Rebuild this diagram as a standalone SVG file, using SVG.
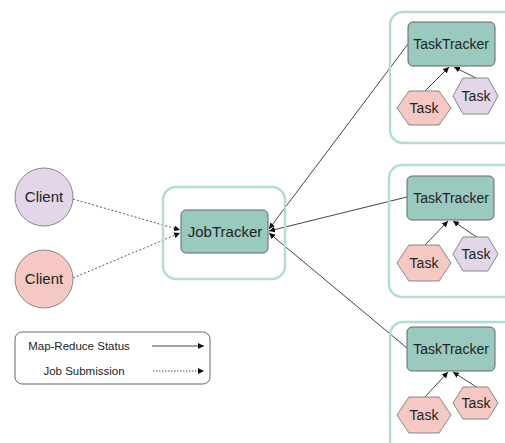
<svg xmlns="http://www.w3.org/2000/svg" width="505" height="443" viewBox="0 0 505 443">
<style>
.outer{fill:none;stroke:#b3ddd3;stroke-width:2.5}
.tracker{fill:#9ac9bf;stroke:#666;stroke-width:1}
.pink{fill:#f5c8c3;stroke:#888;stroke-width:1}
.purple{fill:#e2d6e8;stroke:#888;stroke-width:1}
text{font-family:"Liberation Sans",Arial,sans-serif;fill:#222;text-anchor:middle}
.big{font-size:15px}
.tt{font-size:14px}
.sm{font-size:11.5px}
.solid{stroke:#444;stroke-width:1;fill:none}
.dash{stroke:#555;stroke-width:1;fill:none;stroke-dasharray:2 2}
</style>
<defs>
<marker id="ah" viewBox="0 0 8 8" refX="8" refY="4" markerWidth="6" markerHeight="6" orient="auto" markerUnits="userSpaceOnUse">
<path d="M0,0 L8,4 L0,8 Z" fill="#111"/>
</marker>
</defs>
<rect width="505" height="443" fill="#fff"/>

<g id="connectors">
<line class="dash" x1="73" y1="199" x2="180" y2="230" marker-end="url(#ah)"/>
<line class="dash" x1="73" y1="278" x2="180" y2="233" marker-end="url(#ah)"/>
<line class="solid" x1="408" y1="44" x2="269" y2="229" marker-end="url(#ah)"/>
<line class="solid" x1="407" y1="197" x2="269" y2="231" marker-end="url(#ah)"/>
<line class="solid" x1="407" y1="348" x2="269" y2="233" marker-end="url(#ah)"/>
<line class="solid" x1="425" y1="91" x2="449" y2="67" marker-end="url(#ah)"/>
<line class="solid" x1="478" y1="79" x2="454" y2="67" marker-end="url(#ah)"/>
<line class="solid" x1="425" y1="245" x2="448" y2="221" marker-end="url(#ah)"/>
<line class="solid" x1="478" y1="238" x2="453" y2="221" marker-end="url(#ah)"/>
<line class="solid" x1="425" y1="397" x2="448" y2="372" marker-end="url(#ah)"/>
<line class="solid" x1="478" y1="388" x2="453" y2="372" marker-end="url(#ah)"/>
</g>

<g id="client1">
<circle cx="44" cy="197" r="29" class="purple"/>
<text x="44" y="202" class="big">Client</text>
</g>
<g id="client2">
<circle cx="44" cy="279" r="29" class="pink"/>
<text x="44" y="284" class="big">Client</text>
</g>

<g id="jobtracker">
<rect x="163" y="187" width="122" height="92" rx="13" class="outer"/>
<rect x="181" y="210" width="87" height="43" rx="5" class="tracker"/>
<text x="225" y="237" class="big">JobTracker</text>
</g>

<g id="tasktracker1">
<rect x="390" y="12" width="130" height="131" rx="13" class="outer"/>
<rect x="408" y="22" width="87" height="44" rx="5" class="tracker"/>
<text x="451" y="49" class="tt">TaskTracker</text>
</g>
<g id="task1a">
<polygon points="397,108 409,91 439,91 451,108 439,125 409,125" class="pink"/>
<text x="424" y="113" class="tt">Task</text>
</g>
<g id="task1b">
<polygon points="453,96 463,78 488,78 498,96 488,114 463,114" class="purple"/>
<text x="476" y="101" class="tt">Task</text>
</g>

<g id="tasktracker2">
<rect x="389" y="165" width="130" height="132" rx="13" class="outer"/>
<rect x="407" y="176" width="87" height="44" rx="5" class="tracker"/>
<text x="451" y="203" class="tt">TaskTracker</text>
</g>
<g id="task2a">
<polygon points="397,263 409,245 439,245 451,263 439,281 409,281" class="pink"/>
<text x="424" y="268" class="tt">Task</text>
</g>
<g id="task2b">
<polygon points="453,254 463,237 488,237 498,254 488,271 463,271" class="purple"/>
<text x="476" y="259" class="tt">Task</text>
</g>

<g id="tasktracker3">
<rect x="390" y="322" width="130" height="140" rx="13" class="outer"/>
<rect x="407" y="327" width="88" height="44" rx="5" class="tracker"/>
<text x="451" y="354" class="tt">TaskTracker</text>
</g>
<g id="task3a">
<polygon points="397,415 409,397 439,397 451,415 439,433 409,433" class="pink"/>
<text x="424" y="420" class="tt">Task</text>
</g>
<g id="task3b">
<polygon points="453,403 463,387 488,387 498,403 488,419 463,419" class="pink"/>
<text x="476" y="408" class="tt">Task</text>
</g>

<g id="legend">
<rect x="15" y="332" width="195" height="52" rx="7" fill="#fff" stroke="#666" stroke-width="1"/>
<text x="79" y="350" class="sm">Map-Reduce Status</text>
<text x="84" y="375" class="sm">Job Submission</text>
<line class="solid" x1="152" y1="346" x2="204" y2="346" marker-end="url(#ah)"/>
<line class="dash" x1="153" y1="371" x2="204" y2="371" marker-end="url(#ah)" style="stroke-dasharray:1.5 1.5"/>
</g>
</svg>
